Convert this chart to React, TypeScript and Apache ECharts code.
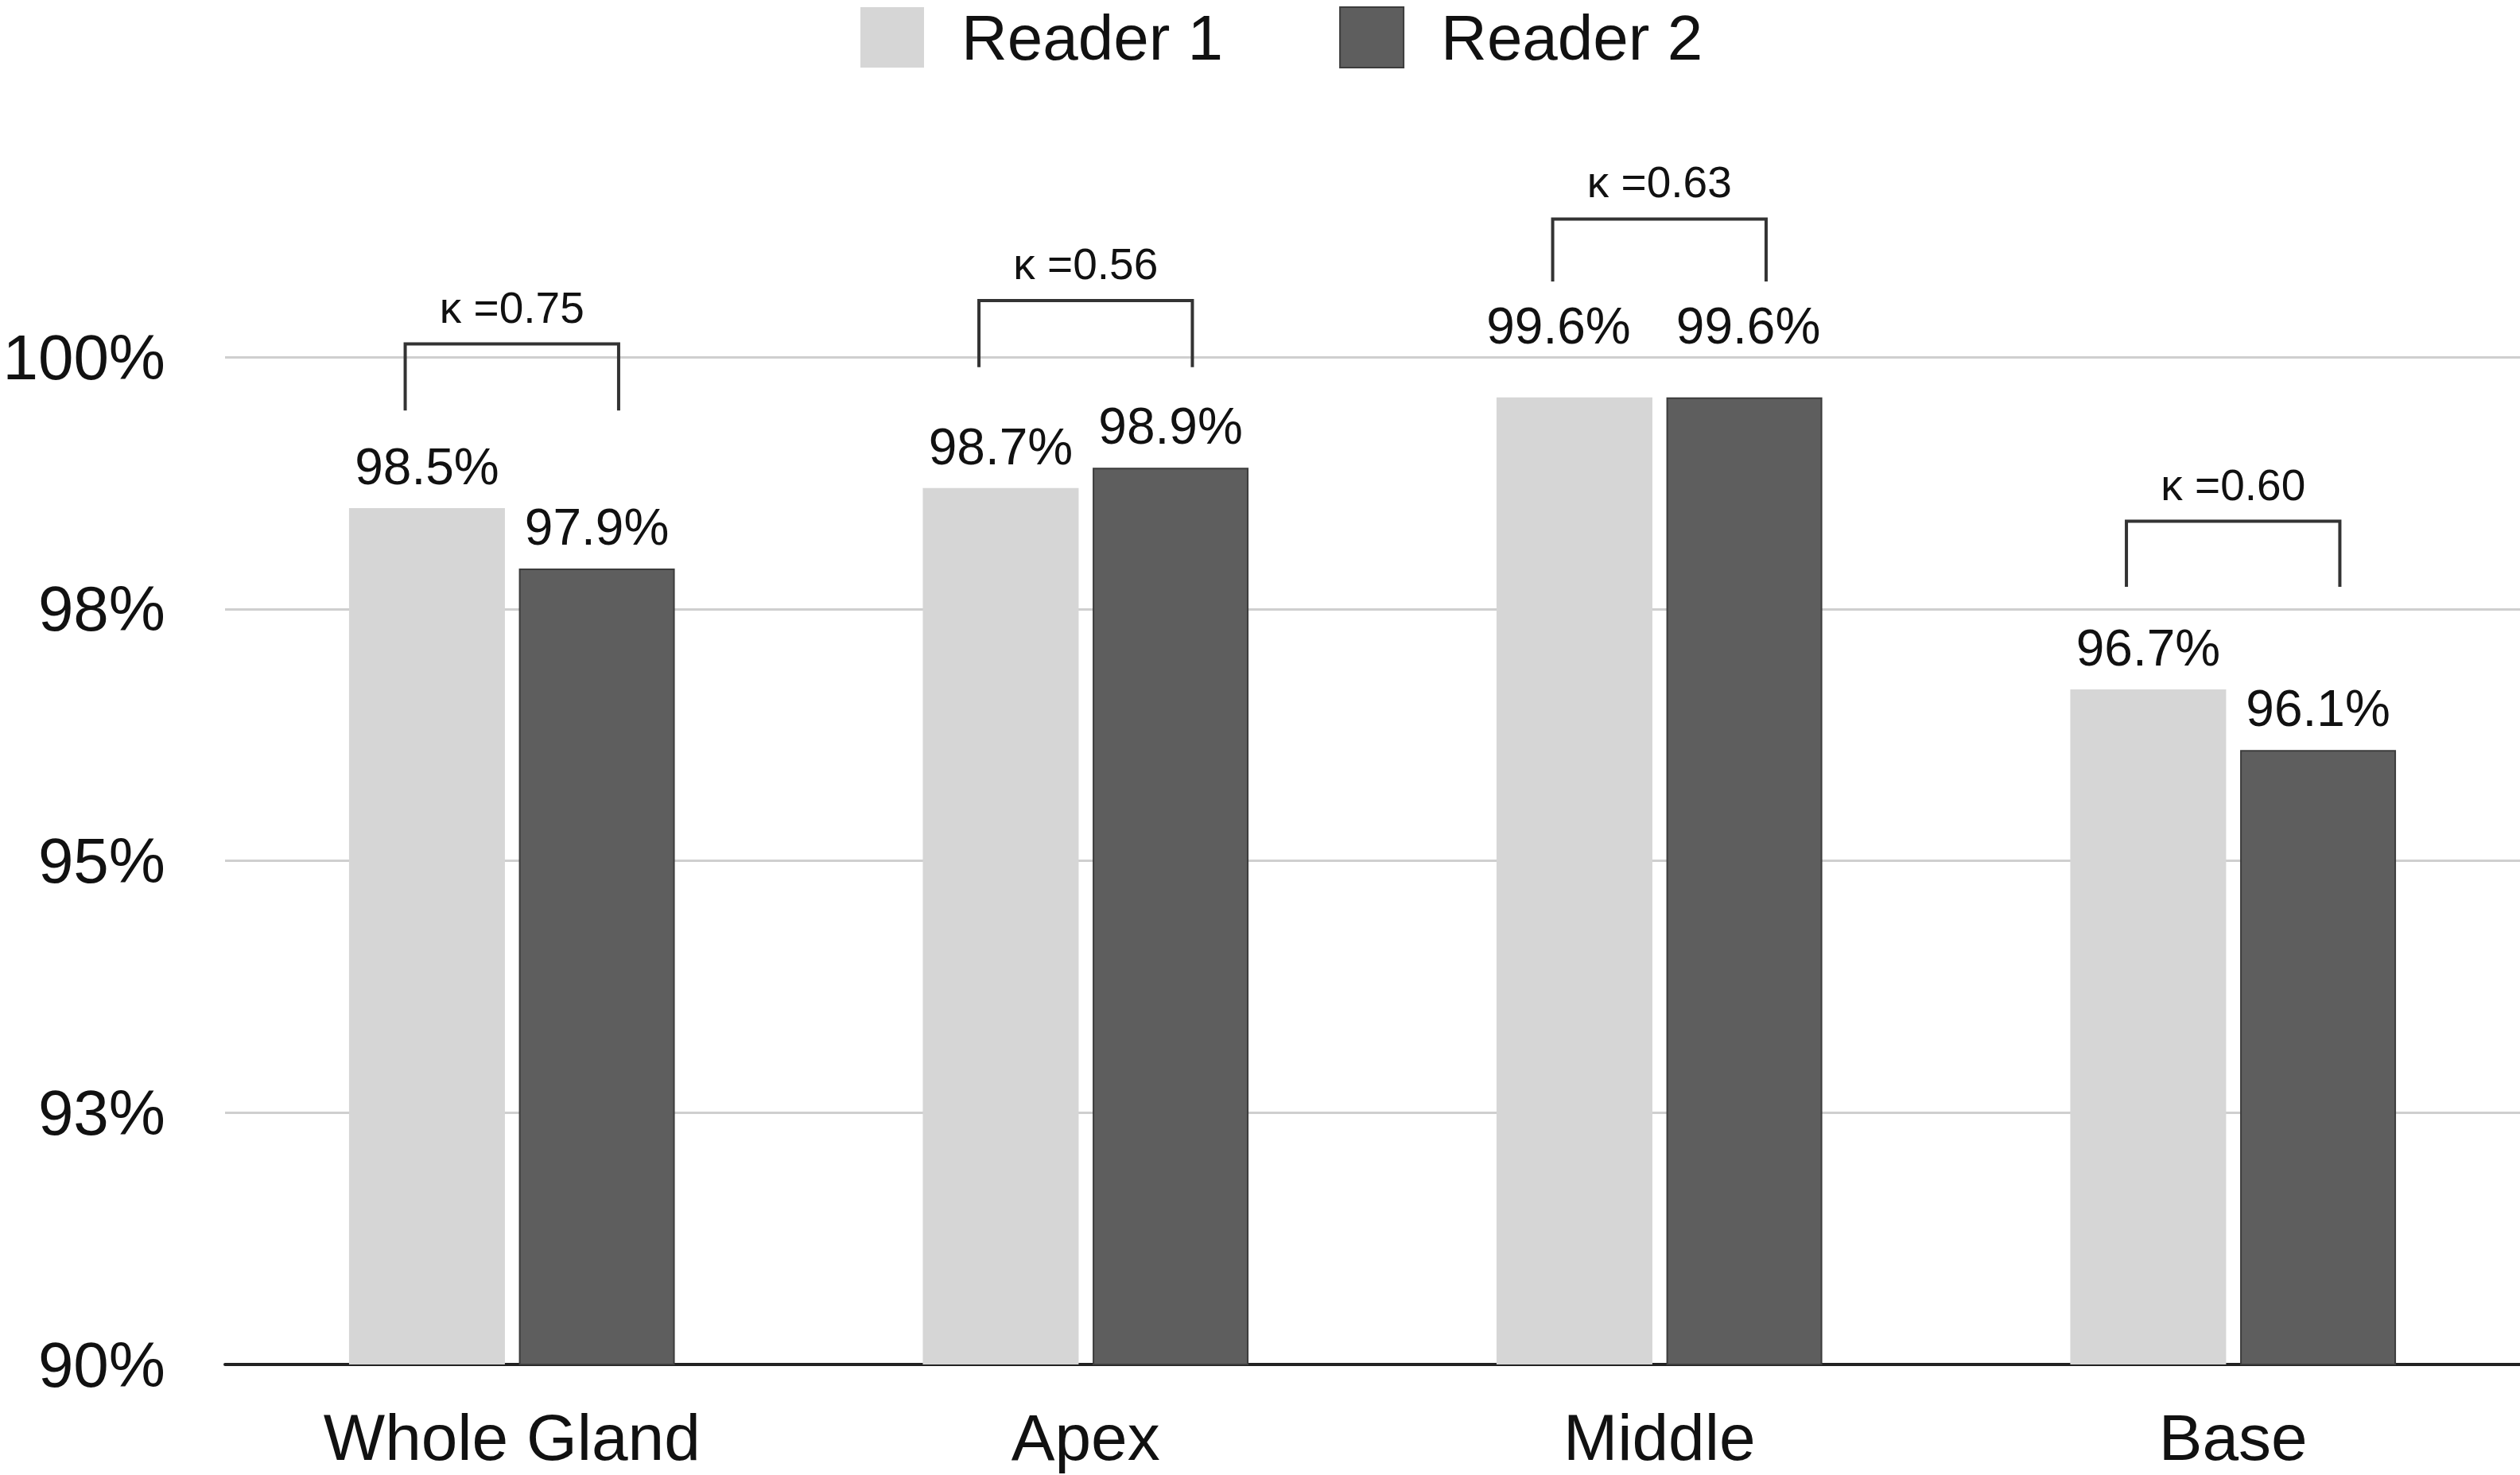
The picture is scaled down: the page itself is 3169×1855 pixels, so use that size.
import React, { useEffect, useRef } from "react";
import * as echarts from "echarts";

const categories = ["Whole Gland", "Apex", "Middle", "Base"];
const reader1 = [98.5, 98.7, 99.6, 96.7];
const reader2 = [97.9, 98.9, 99.6, 96.1];
const kappaLabels = ["κ =0.75", "κ =0.56", "κ =0.63", "κ =0.60"];
const bracketTop = [100.13, 100.56, 101.37, 98.37];
const bracketBottom = [99.47, 99.9, 100.75, 97.72];
const yTicks = [90, 92.5, 95, 97.5, 100];
const yTickLabels = ["90%", "93%", "95%", "98%", "100%"];

const FONT = "'Liberation Sans', Arial, Helvetica, sans-serif";

export default function App() {
  const ref = useRef<HTMLDivElement>(null);
  useEffect(() => {
    document.body.style.margin = "0";
    if (!ref.current) return;
    const chart = echarts.init(ref.current, null, { renderer: "svg" });
    const bracketData = categories.map((_, i) => [i, bracketTop[i], bracketBottom[i], i]);
    const labelStyle = {
      show: true,
      position: "top",
      distance: 20,
      fontSize: 64,
      color: "#111",
      fontFamily: FONT,
      formatter: (p: any) => p.value.toFixed(1) + "%",
    };
    // the middle pair's labels sit higher, above the 100% gridline
    const withLift = (arr: number[], dx: number) =>
      arr.map((v, i) => (i === 2 ? { value: v, label: { offset: [dx, -38] } } : v));
    chart.setOption({
      animation: false,
      backgroundColor: "#ffffff",
      textStyle: { fontFamily: FONT },
      legend: {
        data: ["Reader 1", "Reader 2"],
        top: 2,
        left: 1077,
        icon: "rect",
        itemWidth: 80,
        itemHeight: 76,
        itemGap: 146,
        textStyle: { fontSize: 80, color: "#111", fontFamily: FONT, padding: [0, 0, 0, 42] },
      },
      grid: { left: 283, right: 0, top: 449, bottom: 139 },
      xAxis: {
        type: "category",
        data: categories,
        axisTick: { show: false },
        axisLine: { lineStyle: { color: "#222", width: 4 } },
        axisLabel: { fontSize: 82, color: "#111", margin: 50, fontFamily: FONT },
      },
      yAxis: {
        type: "value",
        min: 90,
        max: 100,
        interval: 2.5,
        axisLine: { show: false },
        axisTick: { show: false },
        splitLine: { lineStyle: { color: "#cfcfcf", width: 3 } },
        axisLabel: {
          fontSize: 80,
          color: "#111",
          margin: 75,
          fontFamily: FONT,
          formatter: (v: number) => {
            const idx = yTicks.findIndex((t) => Math.abs(t - v) < 1e-6);
            return idx >= 0 ? yTickLabels[idx] : "";
          },
        },
      },
      series: [
        {
          name: "Reader 1",
          type: "bar",
          data: withLift(reader1, -20),
          barWidth: 196,
          barGap: "9%",
          itemStyle: { color: "#d6d6d6" },
          label: labelStyle,
        },
        {
          name: "Reader 2",
          type: "bar",
          data: withLift(reader2, 5),
          barWidth: 196,
          barGap: "9%",
          itemStyle: { color: "#5e5e5e", borderColor: "#3c3c3c", borderWidth: 2 },
          label: labelStyle,
        },
        {
          type: "custom",
          clip: false,
          z: 10,
          encode: { x: 0, y: [1, 2] },
          data: bracketData,
          renderItem: (params: any, api: any) => {
            const i = api.value(0);
            const top = api.coord([i, api.value(1)]);
            const bot = api.coord([i, api.value(2)]);
            const band = api.size([1, 0])[0];
            const half = band * 0.186;
            const cx = top[0];
            return {
              type: "group",
              children: [
                {
                  type: "polyline",
                  shape: {
                    points: [
                      [cx - half, bot[1]],
                      [cx - half, top[1]],
                      [cx + half, top[1]],
                      [cx + half, bot[1]],
                    ],
                  },
                  style: { stroke: "#333", lineWidth: 4, fill: null },
                },
                {
                  type: "text",
                  x: cx,
                  y: top[1] - 46,
                  style: {
                    text: kappaLabels[api.value(3)],
                    fontSize: 55,
                    fontFamily: FONT,
                    fill: "#111",
                    align: "center",
                    verticalAlign: "middle",
                  },
                },
              ],
            };
          },
        },
      ],
    });
    return () => chart.dispose();
  }, []);
  return <div ref={ref} style={{ width: 3169, height: 1855 }} />;
}
